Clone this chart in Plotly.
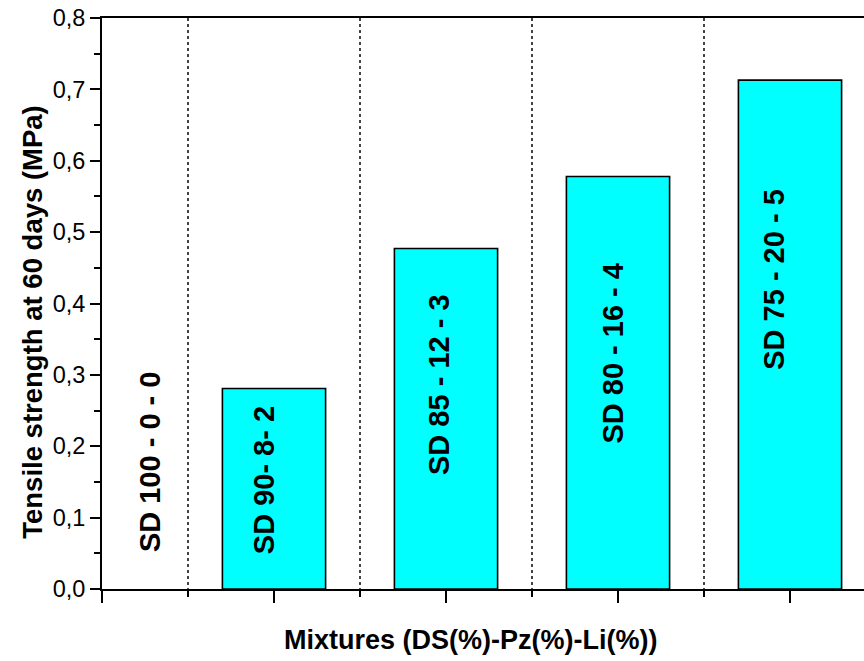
import plotly.graph_objects as go

# Data
categories = ["SD 100 - 0 - 0", "SD 90- 8- 2", "SD 85 - 12 - 3", "SD 80 - 16 - 4", "SD 75 - 20 - 5"]
tensile_strength = [0.0, 0.281, 0.477, 0.578, 0.713]
y_tick_vals = [0.0, 0.1, 0.2, 0.3, 0.4, 0.5, 0.6, 0.7, 0.8]

x_pos = list(range(1, len(categories) + 1))

# label placement (text annotations)
label_dx = [0.28, -0.06, -0.04, -0.03, -0.09]
label_y = [0.178, 0.152, 0.286, 0.331, 0.434]

FONT = "Liberation Sans, Arial, sans-serif"

fig = go.Figure()
fig.add_trace(go.Bar(
    x=x_pos, y=tensile_strength, width=0.6,
    marker=dict(color="#00FFFF",
                line=dict(color="black", width=[0 if v == 0 else 1.6 for v in tensile_strength])),
    showlegend=False, hoverinfo="skip",
))

for i, txt in enumerate(categories):
    fig.add_annotation(
        x=x_pos[i] + label_dx[i], y=label_y[i], xref="x", yref="y",
        text="<b>" + txt + "</b>", showarrow=False, textangle=-90,
        font=dict(family=FONT, size=29, color="black"),
    )

fig.add_annotation(
    x=0.483, y=-0.089, xref="paper", yref="paper",
    text="<b>Mixtures (DS(%)-Pz(%)-Li(%))</b>", showarrow=False,
    font=dict(family=FONT, size=27, color="black"),
    xanchor="center", yanchor="middle",
)
fig.add_annotation(
    x=-0.0906, y=0.468, xref="paper", yref="paper",
    text="<b>Tensile strength at 60 days (MPa)</b>", showarrow=False, textangle=-90,
    font=dict(family=FONT, size=27.5, color="black"),
    xanchor="center", yanchor="middle",
)

fig.update_layout(
    width=864, height=661,
    margin=dict(l=102, r=0, t=18, b=72, autoexpand=False),
    plot_bgcolor="white", paper_bgcolor="white",
    separators=",.",
    font=dict(family=FONT, color="black"),
)

fig.update_xaxes(
    range=[1, 1 + 762 / 172], tickvals=x_pos, ticktext=[""] * len(x_pos),
    ticks="outside", ticklen=12, tickwidth=2, tickcolor="black",
    showline=True, linecolor="black", linewidth=2, mirror=True,
    showgrid=False, zeroline=False, automargin=False,
    minor=dict(tickvals=[1.5, 2.5, 3.5, 4.5], ticks="outside", ticklen=6, tickwidth=2,
               tickcolor="black", showgrid=True, gridcolor="#444444", griddash="dot", gridwidth=1.5),
)
fig.update_yaxes(
    range=[0, 0.8], tickvals=y_tick_vals, tickformat=".1f",
    ticks="outside", ticklen=10, tickwidth=2, tickcolor="black",
    tickfont=dict(family=FONT, size=23.5, color="black"),
    showline=True, linecolor="black", linewidth=2,
    showgrid=False, zeroline=False, automargin=False,
    minor=dict(dtick=0.05, tick0=0.05, ticks="outside", ticklen=6, tickwidth=2, tickcolor="black", showgrid=False),
)

fig.write_html("out.html", config={"displayModeBar": False},
               post_script="document.body.style.margin='0';document.body.style.overflow='hidden';")
